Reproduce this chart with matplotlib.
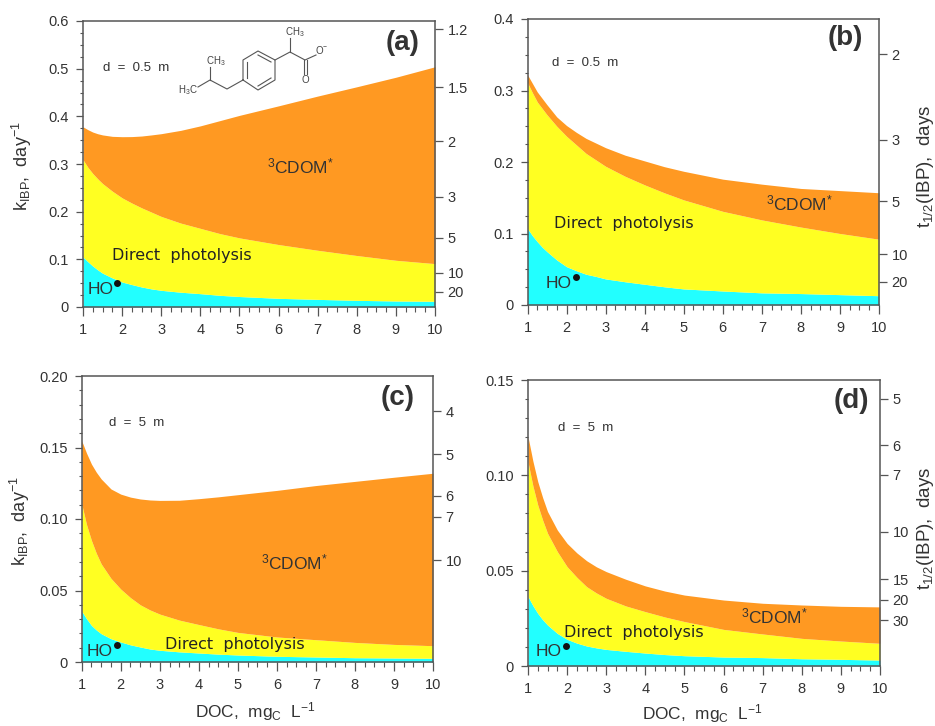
import matplotlib
matplotlib.use("Agg")
import matplotlib.pyplot as plt
from matplotlib.lines import Line2D
from matplotlib.ticker import MultipleLocator

W, H = 935, 726
plt.rcParams['font.family'] = ['Liberation Sans', 'DejaVu Sans']
plt.rcParams['mathtext.fontset'] = 'custom'
plt.rcParams['mathtext.rm'] = 'Liberation Sans'
plt.rcParams['mathtext.it'] = 'Liberation Sans'
plt.rcParams['mathtext.bf'] = 'Liberation Sans:bold'

ORANGE, YELLOW, CYAN = '#FF9922', '#FFFF22', '#22FFFF'
TXT = '#333333'; AXC = '#555555'

doc = [1, 1.125, 1.25, 1.375, 1.5, 1.75, 2, 2.25, 2.5, 2.75, 3, 3.5, 4, 4.5, 5, 6, 7, 8, 9, 10]

a_total  = [.378, .372, .367, .3635, .361, .358, .3573, .3575, .3587, .361, .3636, .3706, .380, .391, .402, .422, .4425, .462, .482, .504]
a_direct = [.309, .293, .28, .269, .259, .243, .229, .218, .208, .199, .19, .176, .165, .154, .145, .131, .119, .108, .098, .091]
a_ho     = [.105, .095, .086, .078, .071, .061, .0524, .047, .042, .038, .035, .031, .028, .0245, .022, .0182, .016, .014, .0126, .012]

b_total  = [.322, .31, .298, .289, .28, .263, .251, .2415, .233, .2265, .22, .2095, .2015, .1935, .187, .176, .169, .163, .16, .157]
b_direct = [.311, .297, .284, .275, .266, .25, .236, .224, .212, .203, .194, .18, .168, .157, .147, .131, .119, .109, .1, .092]
b_ho     = [.107, .097, .0886, .081, .0746, .063, .0536, .048, .043, .04, .0365, .0325, .029, .0255, .0225, .0196, .017, .016, .0145, .013]

c_total  = [.1547, .146, .1384, .1327, .128, .121, .1174, .1153, .114, .1133, .113, .1131, .1142, .1155, .117, .12, .1234, .1263, .1292, .132]
c_direct = [.1105, .096, .085, .076, .0686, .0585, .051, .045, .04, .0364, .0335, .0293, .0262, .0232, .0207, .0175, .0156, .0137, .0123, .0114]
c_ho     = [.0356, .0302, .0256, .0224, .0198, .0163, .014, .012, .0105, .0091, .0082, .0071, .0063, .0055, .0049, .004, .0035, .003, .0028, .0026]

d_total  = [.1203, .1075, .0967, .0883, .081, .0713, .0643, .0593, .0552, .052, .0495, .0455, .042, .0393, .0372, .0346, .0329, .032, .0313, .031]
d_direct = [.107, .0945, .0844, .0765, .0696, .06, .0521, .0465, .0416, .0383, .0355, .0315, .0285, .0257, .0233, .0192, .0168, .0145, .0131, .0119]
d_ho     = [.0364, .0317, .0276, .0243, .0215, .0171, .014, .012, .0105, .0095, .0087, .0077, .0068, .006, .0054, .0047, .0044, .0038, .0035, .0031]

a_yticks = [0, .1, .2, .3, .4, .5, .6]
a_ylabels = ['0', '0.1', '0.2', '0.3', '0.4', '0.5', '0.6']
b_yticks = [0, .1, .2, .3, .4]
b_ylabels = ['0', '0.1', '0.2', '0.3', '0.4']
c_yticks = [0, .05, .10, .15, .20]
c_ylabels = ['0', '0.05', '0.10', '0.15', '0.20']
d_yticks = [0, .05, .10, .15]
d_ylabels = ['0', '0.05', '0.10', '0.15']

a_half = ['1.2', '1.5', '2', '3', '5', '10', '20']
a_half_k = [.5826, .4615, .3476, .2314, .1454, .072, .0321]
b_half = ['2', '3', '5', '10', '20']
b_half_k = [.351, .231, .1454, .0713, .0322]
c_half = ['4', '5', '6', '7', '10']
c_half_k = [.1755, .1452, .1163, .1016, .0713]
d_half = ['5', '6', '7', '10', '15', '20', '30']
d_half_k = [.1402, .1159, .1003, .0703, .0456, .0348, .0241]

fig = plt.figure(figsize=(W / 100, H / 100), dpi=100)


def ftext(x, y, s, **kw):
    kw.setdefault('color', TXT)
    kw.setdefault('ha', 'center')
    kw.setdefault('va', 'center')
    return fig.text(x / W, 1 - y / H, s, **kw)


def panel(box, total, direct, ho, yt, yl, minor, half, half_k):
    l, t, r, b = box
    ax = fig.add_axes([l / W, 1 - b / H, (r - l) / W, (b - t) / H])
    ax.set_xlim(1, 10)
    ax.set_ylim(yt[0], yt[-1])
    ax.fill_between(doc, 0, ho, color=CYAN, lw=0)
    ax.fill_between(doc, ho, direct, color=YELLOW, lw=0)
    ax.fill_between(doc, direct, total, color=ORANGE, lw=0)
    ax.set_xticks(range(1, 11))
    ax.xaxis.set_minor_locator(MultipleLocator(0.25))
    ax.yaxis.set_minor_locator(MultipleLocator(minor))
    ax.set_yticks(yt)
    ax.set_yticklabels(yl)
    ax.tick_params(axis='y', which='major', length=5, width=0.9, color=AXC,
                   labelsize=10.5, labelcolor=TXT, pad=5)
    ax.tick_params(axis='x', which='major', length=6.5, width=0.9, color=AXC,
                   labelsize=10.5, labelcolor=TXT, pad=5)
    ax.tick_params(axis='y', which='minor', length=2.5, width=0.8, color=AXC)
    ax.tick_params(axis='x', which='minor', length=3.5, width=0.8, color=AXC)
    for s in ax.spines.values():
        s.set_color(AXC)
        s.set_linewidth(1.1)
    ax2 = ax.twinx()
    ax2.set_ylim(ax.get_ylim())
    ax2.set_yticks(half_k)
    ax2.set_yticklabels(half)
    ax2.tick_params(axis='y', length=6, width=0.9, color=AXC, labelsize=10.5,
                    labelcolor=TXT, pad=3)
    for s in ax2.spines.values():
        s.set_visible(False)
    return ax


panel((83, 21, 435, 307), a_total, a_direct, a_ho, a_yticks, a_ylabels, .025, a_half, a_half_k)
panel((527.5, 19, 879, 305), b_total, b_direct, b_ho, b_yticks, b_ylabels, .025, b_half, b_half_k)
panel((81.7, 376, 433, 662), c_total, c_direct, c_ho, c_yticks, c_ylabels, .01, c_half, c_half_k)
panel((528, 380, 880, 666), d_total, d_direct, d_ho, d_yticks, d_ylabels, .01, d_half, d_half_k)

# panel letters
for (x, y, s) in [(403, 43, '(a)'), (845, 38, '(b)'), (398, 398, '(c)'), (851, 401, '(d)')]:
    ftext(x, y, s, fontsize=20, fontweight='bold')

LAB = dict(fontsize=11.5, family=['DejaVu Sans'], color='#222222')
# depth notes
ftext(136, 68, 'd  =  0.5  m', fontsize=9.5)
ftext(585, 63, 'd  =  0.5  m', fontsize=9.5)
ftext(137, 423, 'd  =  5  m', fontsize=9.5)
ftext(586, 428, 'd  =  5  m', fontsize=9.5)

# Direct photolysis
ftext(182, 255.5, 'Direct  photolysis', **LAB)
ftext(624, 223.5, 'Direct  photolysis', **LAB)
ftext(235, 645, 'Direct  photolysis', **LAB)
ftext(634, 632, 'Direct  photolysis', **LAB)

# CDOM
CD = r'$^{3}$CDOM$^{*}$'
ftext(301, 166, CD, fontsize=12.5)
ftext(800, 203, CD, fontsize=12.5)
ftext(295, 562, CD, fontsize=12.5)
ftext(775, 616, CD, fontsize=12.5)

# HO radical: letters and the radical dot
for (x, y, dx, dy) in [(101, 289, 117, 283), (559, 283, 576, 277),
                       (100, 651, 116.7, 644.7), (549, 652, 565.7, 646)]:
    ftext(x, y, 'HO', fontsize=12.5)
    fig.add_artist(Line2D([dx / W], [1 - dy / H], marker='o', ms=5, color='#111111',
                          mew=0, ls='none', transform=fig.transFigure))

# axis titles
KL = r'k$_{\mathrm{IBP}}$,  day$^{-1}$'
TL = r't$_{1/2}$(IBP),  days'
DL = r'DOC,  mg$_{\mathrm{C}}$  L$^{-1}$'
ftext(22, 166, KL, rotation=90, fontsize=13)
ftext(20, 521, KL, rotation=90, fontsize=13)
ftext(925, 166, TL, rotation=90, fontsize=13.5)
ftext(926, 528, TL, rotation=90, fontsize=13.5)
ftext(255, 712, DL, fontsize=12.4)
ftext(702, 713.5, DL, fontsize=12.4)

# ibuprofen structure (pixel coordinates of the figure)
bonds = [
    [(198, 87), (210, 80), (227, 89), (243, 80)],
    [(210, 80), (210, 67)],
    [(243, 80), (243, 60), (258, 51), (275, 60), (275, 80), (258, 90), (243, 80)],
    [(247, 78), (247, 62)], [(258, 55), (271, 62)], [(258, 86), (271, 78)],
    [(275, 60), (290, 52), (305, 60), (316, 55)],
    [(290, 52), (290, 38)],
    [(304, 60), (304, 74)], [(307, 60), (307, 74)],
]
for seg in bonds:
    xs = [p[0] / W for p in seg]
    ys = [1 - p[1] / H for p in seg]
    fig.add_artist(Line2D(xs, ys, color='#555555', lw=0.8, transform=fig.transFigure))
SM = dict(fontsize=7, color='#444444')
ftext(216, 61, r'CH$_{3}$', **SM)
ftext(188, 90, r'H$_{3}$C', **SM)
ftext(295, 32, r'CH$_{3}$', **SM)
ftext(322, 50, r'O$^{-}$', **SM)
ftext(305, 80, 'O', **SM)

fig.savefig('out.png', dpi=100)
